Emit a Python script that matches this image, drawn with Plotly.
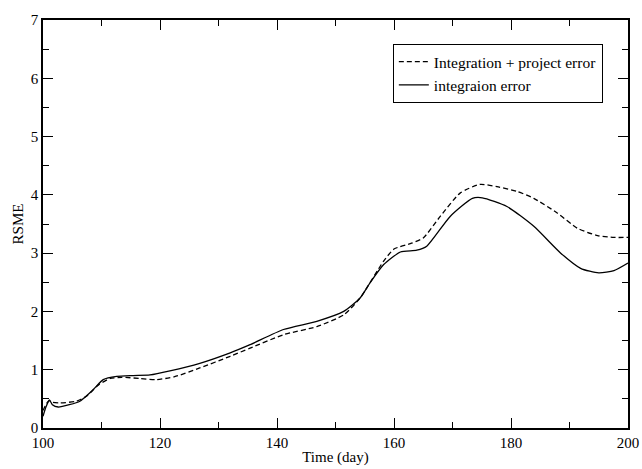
import plotly.graph_objects as go

# Time (day) and RSME for both runs
days_proj = [100, 100.6, 101.1, 101.7, 102.9, 105.7, 107.5, 109.5, 111.5, 113.5,
             116.5, 119.4, 122.5, 126.8, 132, 135.4, 141.1, 146.8, 151.4, 154.2,
             158.2, 160, 163, 165, 167.9, 171.3, 174.7, 177.6, 181, 183.9, 187.9,
             191.3, 194.8, 197.6, 200]
rsme_proj = [0.3, 0.42, 0.47, 0.44, 0.43, 0.46, 0.55, 0.74, 0.85, 0.87,
             0.85, 0.83, 0.88, 1.03, 1.23, 1.37, 1.6, 1.74, 1.94, 2.23,
             2.86, 3.07, 3.17, 3.26, 3.63, 4.03, 4.18, 4.14, 4.06, 3.94, 3.69,
             3.43, 3.3, 3.27, 3.27]

days_int = [100, 100.5, 101.1, 101.6, 102.6, 104.5, 106.3, 108.6, 110.3, 112.6,
            115.4, 118.3, 121.7, 126.8, 132, 135.4, 141.1, 146.8, 151.4, 154.2,
            155.9, 158.2, 161.1, 163.9, 165.6, 169.6, 173.4, 175.1, 179.3, 183.9,
            188.5, 191.9, 195, 197.6, 200]
rsme_int = [0.2, 0.36, 0.48, 0.4, 0.36, 0.4, 0.46, 0.66, 0.83, 0.885,
            0.9, 0.91, 0.98, 1.11, 1.29, 1.43, 1.69, 1.83, 2.0, 2.23,
            2.49, 2.8, 3.02, 3.05, 3.12, 3.63, 3.94, 3.95, 3.8, 3.46,
            3.0, 2.74, 2.66, 2.7, 2.83]

serif = "Liberation Serif, Times New Roman, serif"

fig = go.Figure()

fig.add_trace(go.Scatter(
    x=days_proj, y=rsme_proj, mode="lines",
    name="Integration + project error",
    line=dict(color="black", width=1.3, dash="5px,3px", shape="spline", smoothing=0.6),
))
fig.add_trace(go.Scatter(
    x=days_int, y=rsme_int, mode="lines",
    name="integraion error",
    line=dict(color="black", width=1.3, shape="spline", smoothing=0.6),
))

axis_common = dict(
    showgrid=False, zeroline=False, automargin=False,
    showline=True, linecolor="black", linewidth=1.5, mirror="ticks",
    ticks="inside", ticklen=10, tickwidth=1, tickcolor="black",
    tickfont=dict(family=serif, size=15, color="black"),
)

fig.update_xaxes(
    range=[100, 200], tickmode="linear", tick0=100, dtick=20,
    minor=dict(ticks="inside", ticklen=6, tickwidth=1, tickcolor="black", dtick=10, showgrid=False),
    title=dict(text="Time (day)", font=dict(family=serif, size=15, color="black"), standoff=2),
    **axis_common,
)
fig.update_yaxes(
    range=[0, 7], tickmode="linear", tick0=0, dtick=1,
    minor=dict(ticks="inside", ticklen=6, tickwidth=1, tickcolor="black", dtick=0.5, showgrid=False),
    title=dict(text="RSME", font=dict(family=serif, size=15, color="black"), standoff=4),
    ticklabelstandoff=0,
    **axis_common,
)

fig.update_layout(
    width=642, height=469,
    margin=dict(l=43, r=14, t=20, b=41),
    paper_bgcolor="white", plot_bgcolor="white",
    showlegend=True,
    legend=dict(
        x=0.598, y=0.941, xanchor="left", yanchor="top",
        bgcolor="white", bordercolor="black", borderwidth=1,
        font=dict(family=serif, size=15.5, color="black"),
        tracegroupgap=0, itemwidth=30,
    ),
)

fig.write_html("out.html", config={"displayModeBar": False},
               post_script="document.body.style.margin='0';")
